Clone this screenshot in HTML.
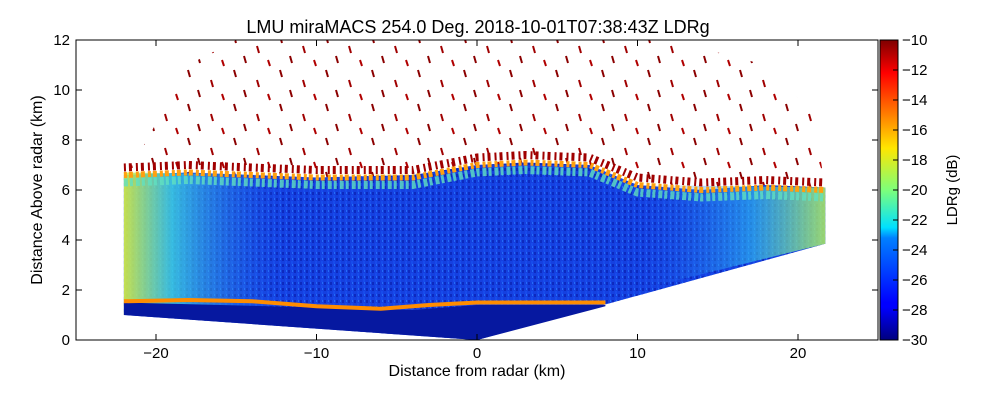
<!DOCTYPE html>
<html><head><meta charset="utf-8">
<style>
html,body{margin:0;padding:0;background:#fff;}
svg{display:block;font-family:"Liberation Sans",sans-serif;}
</style></head>
<body>
<svg id="chart" width="1000" height="400" viewBox="0 0 1000 400">
<defs>
<linearGradient id="jet" x1="0" y1="1" x2="0" y2="0">
<stop offset="0" stop-color="#00007f"/><stop offset="0.11" stop-color="#0000ff"/>
<stop offset="0.125" stop-color="#0000ff"/><stop offset="0.34" stop-color="#0080ff"/>
<stop offset="0.375" stop-color="#00e0ff"/><stop offset="0.5" stop-color="#7dff7a"/>
<stop offset="0.64" stop-color="#ffe600"/><stop offset="0.75" stop-color="#ff8000"/>
<stop offset="0.89" stop-color="#ff0000"/><stop offset="1" stop-color="#7f0000"/>
</linearGradient>
<linearGradient id="leftg" x1="0" y1="0" x2="1" y2="0">
<stop offset="0" stop-color="#d8f040" stop-opacity="0.9"/><stop offset="0.3" stop-color="#40d8e0" stop-opacity="0.8"/>
<stop offset="1" stop-color="#2060f0" stop-opacity="0"/>
</linearGradient>
<linearGradient id="rightg" x1="1" y1="0" x2="0" y2="0">
<stop offset="0" stop-color="#b0f060" stop-opacity="0.85"/><stop offset="0.4" stop-color="#30c0f0" stop-opacity="0.6"/>
<stop offset="1" stop-color="#2060f0" stop-opacity="0"/>
</linearGradient>
<pattern id="dash" width="46" height="34" patternUnits="userSpaceOnUse">
<line x1="4" y1="2" x2="6" y2="9" stroke="#8b0000" stroke-width="2"/>
<line x1="27" y1="12" x2="29" y2="19" stroke="#a00000" stroke-width="2"/>
<line x1="14" y1="22" x2="16" y2="29" stroke="#8b0000" stroke-width="2"/>
<line x1="38" y1="26" x2="40" y2="32" stroke="#b00000" stroke-width="2"/>
</pattern>
<pattern id="noise" width="6" height="6" patternUnits="userSpaceOnUse">
<rect x="0" y="0" width="2" height="3" fill="#0a20b0"/>
<rect x="3" y="3" width="2" height="3" fill="#1850f0"/>
<rect x="4" y="0" width="1" height="2" fill="#2a80ff"/>
</pattern>
</defs>
<g id="plot"></g>
<rect x="76" y="40" width="802" height="300" fill="none" stroke="#000" stroke-width="1"/>
<g id="axes"></g>
<text x="478" y="33" text-anchor="middle" font-size="18">LMU miraMACS 254.0 Deg. 2018-10-01T07:38:43Z  LDRg</text>
<text x="477" y="376" text-anchor="middle" font-size="16">Distance from radar (km)</text>
<text transform="translate(42,190) rotate(-90)" text-anchor="middle" font-size="16">Distance Above radar  (km)</text>
<rect x="880" y="40" width="18" height="300" fill="url(#jet)" stroke="#000" stroke-width="1"/>
<g id="cbar"></g>
<text transform="translate(957,190) rotate(-90)" text-anchor="middle" font-size="15">LDRg (dB)</text>
</svg>
<script>
const xTicks=[-20,-10,0,10,20];
const yTicks=[0,2,4,6,8,10,12];
const cTicks=[-30,-28,-26,-24,-22,-20,-18,-16,-14,-12,-10];
// echo outline (km)
const outlineX=[-22,-22,-18,-10,-4,0,3,7,10,14,18,21.7,21.7,0,-22];
const outlineY=[1,6.6,6.7,6.5,6.6,7.0,7.1,7.0,6.2,6.0,6.2,6.1,3.85,0,1];
// melting layer line
const meltX=[-22,-18,-14,-10,-6,-3,0,4,8];
const meltY=[1.55,1.6,1.55,1.35,1.25,1.4,1.5,1.5,1.5];
// top of cloud band
const topX=[-22,-18,-10,-4,0,3,7,10,14,18,21.7];
const topY=[6.3,6.4,6.2,6.2,6.7,6.8,6.7,5.9,5.7,5.8,5.7];
const sx=v=>477+v*16.05, sy=v=>340-v*25, cy=v=>340-(v+30)*15;
const NS='http://www.w3.org/2000/svg';
const plot=document.getElementById('plot'),axes=document.getElementById('axes'),cb=document.getElementById('cbar');
function mk(t,a,p){const e=document.createElementNS(NS,t);for(const k in a)e.setAttribute(k,a[k]);p.appendChild(e);return e;}
const pts=(xs,ys)=>xs.map((x,i)=>sx(x)+','+sy(ys[i])).join(' ');
let e=mk('polygon',{points:pts([-21,-18,-15,-5,0,5,12,18,21,21.7,-22],[7.5,11,12,12,12,12,12,11,9,6,6.5]),fill:'url(#dash)'},plot);

e=mk('polygon',{points:pts(outlineX,outlineY),fill:'#1540e0'},plot);

e=mk('polygon',{points:pts(outlineX,outlineY),fill:'url(#noise)',opacity:0.7},plot);

e=mk('polygon',{points:pts([-22,-22,-12,-12],[1,6.7,6.6,1.3]),fill:'url(#leftg)'},plot);

e=mk('polygon',{points:pts([10,21.7,21.7,10],[6.2,6.1,3.85,2.0]),fill:'url(#rightg)'},plot);

e=mk('polygon',{points:pts([-22,-10,-4,0,8,8,0,-22],[1.5,1.3,1.2,1.4,1.4,1.35,0,1]),fill:'#0618a0'},plot);

e=mk('polyline',{points:pts(meltX,meltY),fill:'none',stroke:'#ff8c00','stroke-width':4},plot);

e=mk('polyline',{points:pts(topX,topY),fill:'none',stroke:'#60e0c0','stroke-width':8,'stroke-dasharray':'4 2 3 3',opacity:0.8},plot);

e=mk('polyline',{points:pts(topX,topY.map(v=>v+0.3)),fill:'none',stroke:'#ffa010','stroke-width':6,'stroke-dasharray':'3 2 4 3'},plot);

e=mk('polyline',{points:pts(topX,topY.map(v=>v+0.6)),fill:'none',stroke:'#a00000','stroke-width':8,'stroke-dasharray':'2 3 3 4'},plot);

xTicks.forEach(v=>{const x=sx(v);
 mk('line',{x1:x,y1:340,x2:x,y2:334,stroke:'#000'},axes);mk('line',{x1:x,y1:40,x2:x,y2:46,stroke:'#000'},axes);
 const t=mk('text',{x:x,y:358,'text-anchor':'middle','font-size':15},axes);t.textContent=v<0?'\u2212'+(-v):v;
 });
yTicks.forEach(v=>{const y=sy(v);
 mk('line',{x1:76,y1:y,x2:82,y2:y,stroke:'#000'},axes);mk('line',{x1:878,y1:y,x2:872,y2:y,stroke:'#000'},axes);
 const t=mk('text',{x:70,y:y+5,'text-anchor':'end','font-size':15},axes);t.textContent=v;
 });
cTicks.forEach(v=>{const y=cy(v);
 mk('line',{x1:893,y1:y,x2:898,y2:y,stroke:'#000'},cb);
 const t=mk('text',{x:902,y:y+5,'font-size':15},cb);t.textContent='\u2212'+(-v);
 });
</script>
</body></html>
